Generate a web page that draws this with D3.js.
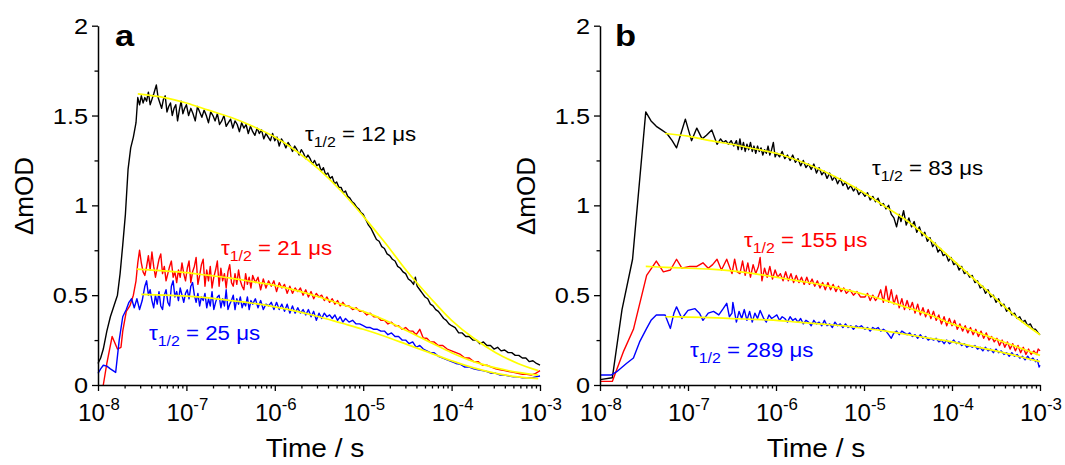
<!DOCTYPE html>
<html><head><meta charset="utf-8">
<script src="https://cdn.jsdelivr.net/npm/d3@7"></script>
<style>
body{margin:0;background:#fff}
svg{display:block}
text{font-family:"Liberation Sans",Arial,Helvetica,sans-serif;fill:#000}
</style>
</head><body>
<svg id="chart" width="1065" height="465"></svg>
<script>
// ---------------- DATA ----------------
const xTickExponents = [-8, -7, -6, -5, -4, -3];
const yTickValues = [0, 0.5, 1, 1.5, 2];
const yTickLabels = ["0", "0.5", "1", "1.5", "2"];
const panelLetters = ["a", "b"];
const xAxisTitle = "Time / s";
const yAxisTitle = "ΔmOD";
const tauLabelsA = ["12", "21", "25"];   // black, red, blue (µs)
const tauLabelsB = ["83", "155", "289"];

// Traces: [log10(time / s), ΔmOD]
const aBlack = [[-8.00,0.12],[-7.97,0.15],[-7.94,0.20],[-7.90,0.30],[-7.86,0.38],[-7.82,0.44],[-7.78,0.50],[-7.75,0.62],[-7.72,0.78],[-7.69,0.95],[-7.66,1.20],[-7.63,1.32],[-7.60,1.38],[-7.57,1.46],[-7.55,1.60],[-7.53,1.56],[-7.51,1.61],[-7.49,1.57],[-7.47,1.60],[-7.45,1.58],[-7.43,1.63],[-7.41,1.56],[-7.39,1.59],[-7.37,1.62],[-7.34,1.67],[-7.32,1.60],[-7.30,1.57],[-7.28,1.54],[-7.26,1.59],[-7.24,1.61],[-7.22,1.52],[-7.20,1.55],[-7.18,1.57],[-7.16,1.50],[-7.14,1.54],[-7.12,1.56],[-7.10,1.47],[-7.08,1.53],[-7.06,1.58],[-7.04,1.51],[-7.02,1.54],[-7.000,1.56],[-6.975,1.50],[-6.950,1.54],[-6.925,1.51],[-6.900,1.47],[-6.875,1.55],[-6.850,1.52],[-6.825,1.49],[-6.800,1.53],[-6.775,1.50],[-6.750,1.46],[-6.725,1.52],[-6.700,1.50],[-6.675,1.47],[-6.650,1.51],[-6.625,1.45],[-6.600,1.47],[-6.575,1.50],[-6.550,1.44],[-6.525,1.46],[-6.500,1.48],[-6.475,1.43],[-6.450,1.47],[-6.425,1.45],[-6.400,1.41],[-6.375,1.46],[-6.350,1.43],[-6.325,1.45],[-6.300,1.40],[-6.275,1.44],[-6.250,1.41],[-6.225,1.39],[-6.200,1.43],[-6.175,1.40],[-6.150,1.42],[-6.125,1.37],[-6.100,1.40],[-6.075,1.38],[-6.050,1.36],[-6.025,1.40],[-6.000,1.36],[-5.975,1.38],[-5.950,1.33],[-5.925,1.37],[-5.900,1.35],[-5.875,1.32],[-5.850,1.35],[-5.825,1.33],[-5.800,1.30],[-5.775,1.33],[-5.750,1.31],[-5.725,1.28],[-5.700,1.31],[-5.675,1.29],[-5.650,1.26],[-5.625,1.28],[-5.600,1.26],[-5.575,1.23],[-5.550,1.25],[-5.525,1.22],[-5.500,1.23],[-5.475,1.19],[-5.450,1.21],[-5.425,1.17],[-5.400,1.18],[-5.375,1.15],[-5.350,1.16],[-5.325,1.12],[-5.300,1.13],[-5.275,1.10],[-5.250,1.10],[-5.225,1.07],[-5.200,1.08],[-5.175,1.05],[-5.150,1.04],[-5.125,1.02],[-5.100,1.01],[-5.075,0.99],[-5.050,0.98],[-5.025,0.96],[-5.000,0.95],[-4.97,0.92],[-4.94,0.89],[-4.91,0.87],[-4.88,0.84],[-4.85,0.81],[-4.82,0.80],[-4.79,0.77],[-4.76,0.76],[-4.73,0.73],[-4.70,0.72],[-4.67,0.70],[-4.64,0.69],[-4.61,0.66],[-4.58,0.65],[-4.55,0.63],[-4.52,0.62],[-4.49,0.59],[-4.46,0.58],[-4.43,0.56],[-4.41,0.60],[-4.39,0.55],[-4.36,0.53],[-4.33,0.51],[-4.30,0.49],[-4.27,0.48],[-4.24,0.45],[-4.21,0.44],[-4.18,0.42],[-4.15,0.41],[-4.12,0.39],[-4.09,0.37],[-4.06,0.36],[-4.03,0.34],[-4.00,0.33],[-3.96,0.32],[-3.92,0.29],[-3.88,0.29],[-3.84,0.27],[-3.80,0.27],[-3.76,0.25],[-3.72,0.25],[-3.68,0.23],[-3.64,0.24],[-3.60,0.22],[-3.56,0.22],[-3.52,0.20],[-3.48,0.21],[-3.44,0.19],[-3.40,0.195],[-3.36,0.18],[-3.32,0.18],[-3.28,0.165],[-3.24,0.165],[-3.20,0.15],[-3.16,0.15],[-3.12,0.13],[-3.08,0.135],[-3.04,0.12],[-3.00,0.11]];
const aRed = [[-7.94,0.00],[-7.90,0.12],[-7.84,0.27],[-7.78,0.20],[-7.74,0.21],[-7.72,0.30],[-7.68,0.41],[-7.64,0.44],[-7.60,0.50],[-7.57,0.58],[-7.55,0.68],[-7.53,0.75],[-7.51,0.68],[-7.49,0.63],[-7.47,0.61],[-7.45,0.66],[-7.43,0.72],[-7.41,0.64],[-7.39,0.74],[-7.37,0.66],[-7.35,0.60],[-7.33,0.65],[-7.31,0.70],[-7.29,0.73],[-7.27,0.62],[-7.25,0.66],[-7.23,0.58],[-7.21,0.62],[-7.19,0.66],[-7.17,0.69],[-7.15,0.60],[-7.13,0.63],[-7.11,0.57],[-7.09,0.64],[-7.07,0.60],[-7.05,0.68],[-7.03,0.62],[-7.01,0.58],[-6.99,0.65],[-6.97,0.69],[-6.95,0.57],[-6.93,0.63],[-6.91,0.66],[-6.89,0.71],[-6.87,0.56],[-6.85,0.61],[-6.83,0.67],[-6.81,0.70],[-6.79,0.55],[-6.77,0.64],[-6.75,0.58],[-6.73,0.66],[-6.71,0.54],[-6.69,0.60],[-6.67,0.64],[-6.65,0.69],[-6.63,0.55],[-6.61,0.65],[-6.59,0.58],[-6.57,0.62],[-6.55,0.54],[-6.53,0.63],[-6.51,0.67],[-6.49,0.57],[-6.47,0.55],[-6.45,0.62],[-6.43,0.56],[-6.41,0.64],[-6.39,0.58],[-6.37,0.55],[-6.35,0.53],[-6.33,0.62],[-6.31,0.56],[-6.29,0.60],[-6.27,0.54],[-6.25,0.61],[-6.22,0.57],[-6.19,0.60],[-6.16,0.53],[-6.13,0.59],[-6.10,0.54],[-6.07,0.58],[-6.04,0.55],[-6.01,0.58],[-5.98,0.52],[-5.95,0.57],[-5.92,0.54],[-5.89,0.56],[-5.86,0.51],[-5.83,0.55],[-5.80,0.51],[-5.77,0.54],[-5.74,0.52],[-5.71,0.54],[-5.68,0.50],[-5.65,0.53],[-5.62,0.49],[-5.59,0.52],[-5.56,0.48],[-5.53,0.51],[-5.50,0.49],[-5.47,0.50],[-5.44,0.47],[-5.41,0.49],[-5.38,0.46],[-5.35,0.48],[-5.32,0.45],[-5.29,0.47],[-5.26,0.44],[-5.23,0.46],[-5.20,0.44],[-5.16,0.44],[-5.12,0.42],[-5.08,0.43],[-5.04,0.41],[-5.00,0.41],[-4.96,0.39],[-4.92,0.40],[-4.88,0.38],[-4.84,0.38],[-4.80,0.36],[-4.76,0.36],[-4.72,0.34],[-4.68,0.35],[-4.64,0.33],[-4.60,0.33],[-4.56,0.31],[-4.52,0.32],[-4.48,0.30],[-4.44,0.30],[-4.40,0.28],[-4.36,0.31],[-4.32,0.26],[-4.28,0.26],[-4.24,0.24],[-4.20,0.24],[-4.15,0.22],[-4.10,0.22],[-4.05,0.20],[-4.00,0.19],[-3.95,0.18],[-3.90,0.17],[-3.85,0.15],[-3.80,0.15],[-3.75,0.13],[-3.70,0.13],[-3.65,0.11],[-3.60,0.11],[-3.55,0.10],[-3.50,0.09],[-3.45,0.085],[-3.40,0.08],[-3.35,0.075],[-3.30,0.07],[-3.25,0.065],[-3.20,0.06],[-3.15,0.06],[-3.10,0.055],[-3.05,0.065],[-3.00,0.08]];
const aBlue = [[-8.00,0.065],[-7.97,0.09],[-7.94,0.11],[-7.90,0.105],[-7.86,0.09],[-7.80,0.07],[-7.76,0.25],[-7.72,0.38],[-7.68,0.42],[-7.65,0.46],[-7.62,0.48],[-7.59,0.43],[-7.56,0.48],[-7.53,0.42],[-7.50,0.47],[-7.47,0.55],[-7.45,0.58],[-7.43,0.50],[-7.41,0.53],[-7.39,0.47],[-7.37,0.43],[-7.35,0.50],[-7.33,0.45],[-7.31,0.52],[-7.29,0.44],[-7.27,0.42],[-7.25,0.50],[-7.23,0.53],[-7.21,0.46],[-7.19,0.44],[-7.17,0.55],[-7.15,0.58],[-7.13,0.49],[-7.11,0.52],[-7.09,0.47],[-7.07,0.54],[-7.05,0.50],[-7.03,0.46],[-7.01,0.51],[-6.99,0.53],[-6.97,0.48],[-6.95,0.55],[-6.93,0.57],[-6.91,0.50],[-6.89,0.46],[-6.87,0.51],[-6.85,0.44],[-6.83,0.49],[-6.81,0.47],[-6.79,0.51],[-6.77,0.43],[-6.75,0.48],[-6.73,0.44],[-6.71,0.52],[-6.69,0.42],[-6.67,0.46],[-6.65,0.49],[-6.63,0.50],[-6.61,0.43],[-6.59,0.48],[-6.57,0.44],[-6.55,0.53],[-6.53,0.42],[-6.51,0.45],[-6.49,0.47],[-6.47,0.50],[-6.45,0.42],[-6.43,0.48],[-6.41,0.45],[-6.39,0.49],[-6.37,0.43],[-6.35,0.46],[-6.33,0.44],[-6.31,0.49],[-6.29,0.42],[-6.27,0.47],[-6.25,0.45],[-6.22,0.48],[-6.19,0.43],[-6.16,0.47],[-6.13,0.42],[-6.10,0.45],[-6.07,0.44],[-6.04,0.46],[-6.01,0.42],[-5.98,0.46],[-5.95,0.42],[-5.92,0.45],[-5.89,0.41],[-5.86,0.45],[-5.83,0.40],[-5.80,0.44],[-5.77,0.40],[-5.74,0.43],[-5.71,0.40],[-5.68,0.42],[-5.65,0.39],[-5.62,0.42],[-5.59,0.38],[-5.56,0.41],[-5.53,0.36],[-5.50,0.40],[-5.47,0.37],[-5.44,0.40],[-5.41,0.38],[-5.38,0.39],[-5.35,0.37],[-5.32,0.39],[-5.29,0.36],[-5.26,0.38],[-5.23,0.35],[-5.20,0.37],[-5.16,0.35],[-5.12,0.36],[-5.08,0.34],[-5.04,0.34],[-5.00,0.33],[-4.96,0.32],[-4.92,0.32],[-4.88,0.31],[-4.84,0.31],[-4.80,0.30],[-4.76,0.30],[-4.72,0.28],[-4.68,0.29],[-4.64,0.27],[-4.60,0.27],[-4.56,0.25],[-4.52,0.25],[-4.48,0.23],[-4.44,0.24],[-4.40,0.21],[-4.36,0.22],[-4.32,0.20],[-4.28,0.19],[-4.24,0.18],[-4.20,0.18],[-4.15,0.16],[-4.10,0.15],[-4.05,0.14],[-4.00,0.13],[-3.95,0.12],[-3.90,0.115],[-3.85,0.10],[-3.80,0.10],[-3.75,0.09],[-3.70,0.085],[-3.65,0.08],[-3.60,0.075],[-3.55,0.065],[-3.50,0.065],[-3.45,0.055],[-3.40,0.055],[-3.35,0.05],[-3.30,0.045],[-3.25,0.045],[-3.20,0.04],[-3.15,0.04],[-3.10,0.04],[-3.05,0.045],[-3.00,0.05]];
const aBlackFit = [[-7.55,1.62],[-7.25,1.60],[-7.0,1.57],[-6.75,1.53],[-6.5,1.49],[-6.25,1.44],[-6.0,1.38],[-5.75,1.30],[-5.5,1.20],[-5.25,1.08],[-5.0,0.94],[-4.75,0.79],[-4.5,0.63],[-4.25,0.49],[-4.0,0.36],[-3.75,0.26],[-3.5,0.18],[-3.25,0.12],[-3.02,0.08]];
const aRedFit = [[-7.56,0.645],[-7.25,0.635],[-7.0,0.625],[-6.75,0.61],[-6.5,0.595],[-6.25,0.575],[-6.0,0.555],[-5.75,0.525],[-5.5,0.49],[-5.25,0.45],[-5.0,0.41],[-4.75,0.36],[-4.5,0.30],[-4.25,0.24],[-4.0,0.18],[-3.75,0.13],[-3.5,0.095],[-3.25,0.07],[-3.02,0.055]];
const aBlueFit = [[-7.51,0.505],[-7.25,0.50],[-7.0,0.495],[-6.75,0.485],[-6.5,0.47],[-6.25,0.455],[-6.0,0.435],[-5.75,0.41],[-5.5,0.38],[-5.25,0.345],[-5.0,0.31],[-4.75,0.27],[-4.5,0.225],[-4.25,0.18],[-4.0,0.135],[-3.75,0.095],[-3.5,0.065],[-3.25,0.045],[-3.02,0.035]];

const bBlack = [[-8.00,0.03],[-7.86,0.04],[-7.75,0.42],[-7.63,0.70],[-7.48,1.52],[-7.42,1.47],[-7.36,1.44],[-7.30,1.42],[-7.24,1.40],[-7.18,1.36],[-7.13,1.32],[-7.08,1.40],[-7.03,1.48],[-6.96,1.36],[-6.90,1.43],[-6.84,1.37],[-6.79,1.39],[-6.73,1.42],[-6.67,1.34],[-6.63,1.37],[-6.60,1.35],[-6.57,1.36],[-6.54,1.34],[-6.51,1.36],[-6.48,1.33],[-6.45,1.36],[-6.43,1.31],[-6.41,1.37],[-6.39,1.31],[-6.37,1.35],[-6.35,1.30],[-6.33,1.34],[-6.31,1.31],[-6.29,1.35],[-6.27,1.30],[-6.25,1.33],[-6.23,1.29],[-6.21,1.33],[-6.19,1.30],[-6.17,1.32],[-6.15,1.28],[-6.13,1.31],[-6.11,1.29],[-6.09,1.33],[-6.07,1.28],[-6.05,1.31],[-6.03,1.35],[-6.01,1.27],[-5.99,1.29],[-5.96,1.27],[-5.93,1.30],[-5.90,1.26],[-5.87,1.28],[-5.84,1.25],[-5.81,1.28],[-5.78,1.24],[-5.75,1.26],[-5.72,1.22],[-5.69,1.25],[-5.66,1.21],[-5.63,1.23],[-5.60,1.20],[-5.57,1.23],[-5.54,1.18],[-5.51,1.21],[-5.48,1.17],[-5.45,1.19],[-5.42,1.15],[-5.39,1.18],[-5.36,1.14],[-5.33,1.16],[-5.30,1.12],[-5.27,1.15],[-5.24,1.11],[-5.21,1.13],[-5.18,1.09],[-5.15,1.11],[-5.12,1.08],[-5.09,1.10],[-5.06,1.06],[-5.03,1.08],[-4.99,1.05],[-4.96,1.07],[-4.93,1.03],[-4.90,1.05],[-4.87,1.02],[-4.84,1.04],[-4.81,1.00],[-4.78,1.01],[-4.75,0.98],[-4.72,1.00],[-4.69,0.95],[-4.66,0.93],[-4.63,0.88],[-4.60,0.95],[-4.58,0.91],[-4.55,0.97],[-4.52,0.89],[-4.49,0.93],[-4.46,0.88],[-4.43,0.91],[-4.40,0.85],[-4.37,0.88],[-4.34,0.83],[-4.31,0.85],[-4.28,0.80],[-4.25,0.82],[-4.22,0.77],[-4.19,0.79],[-4.16,0.74],[-4.13,0.76],[-4.10,0.72],[-4.07,0.73],[-4.04,0.69],[-4.01,0.71],[-3.98,0.67],[-3.95,0.68],[-3.92,0.64],[-3.89,0.66],[-3.86,0.62],[-3.83,0.63],[-3.80,0.60],[-3.77,0.61],[-3.74,0.57],[-3.71,0.58],[-3.68,0.54],[-3.65,0.55],[-3.62,0.51],[-3.59,0.53],[-3.56,0.49],[-3.53,0.50],[-3.50,0.46],[-3.47,0.48],[-3.44,0.44],[-3.41,0.45],[-3.38,0.41],[-3.35,0.43],[-3.32,0.39],[-3.29,0.40],[-3.26,0.37],[-3.23,0.38],[-3.20,0.35],[-3.17,0.36],[-3.14,0.33],[-3.11,0.34],[-3.08,0.31],[-3.05,0.31],[-3.02,0.29],[-3.00,0.28]];
const bRed = [[-8.00,0.02],[-7.86,0.02],[-7.73,0.19],[-7.62,0.31],[-7.47,0.61],[-7.40,0.66],[-7.36,0.69],[-7.28,0.63],[-7.20,0.64],[-7.13,0.70],[-7.07,0.65],[-6.98,0.66],[-6.90,0.66],[-6.83,0.68],[-6.77,0.65],[-6.72,0.67],[-6.67,0.70],[-6.62,0.64],[-6.56,0.70],[-6.50,0.62],[-6.47,0.70],[-6.44,0.63],[-6.41,0.62],[-6.38,0.69],[-6.35,0.61],[-6.32,0.68],[-6.29,0.60],[-6.26,0.67],[-6.23,0.62],[-6.20,0.66],[-6.18,0.71],[-6.16,0.58],[-6.13,0.65],[-6.10,0.60],[-6.07,0.66],[-6.04,0.59],[-6.01,0.64],[-5.98,0.60],[-5.95,0.62],[-5.92,0.58],[-5.89,0.63],[-5.86,0.58],[-5.83,0.62],[-5.80,0.57],[-5.77,0.61],[-5.74,0.57],[-5.71,0.60],[-5.68,0.56],[-5.65,0.60],[-5.62,0.56],[-5.59,0.59],[-5.56,0.55],[-5.53,0.58],[-5.50,0.54],[-5.47,0.57],[-5.44,0.53],[-5.41,0.57],[-5.38,0.53],[-5.35,0.56],[-5.32,0.52],[-5.29,0.55],[-5.26,0.52],[-5.23,0.54],[-5.20,0.51],[-5.16,0.53],[-5.12,0.50],[-5.08,0.52],[-5.04,0.49],[-4.99,0.49],[-4.96,0.51],[-4.93,0.47],[-4.90,0.50],[-4.87,0.47],[-4.84,0.49],[-4.81,0.53],[-4.78,0.46],[-4.75,0.55],[-4.72,0.46],[-4.69,0.53],[-4.66,0.45],[-4.63,0.50],[-4.60,0.43],[-4.57,0.48],[-4.54,0.42],[-4.51,0.47],[-4.48,0.42],[-4.45,0.46],[-4.42,0.40],[-4.39,0.45],[-4.36,0.39],[-4.33,0.43],[-4.30,0.38],[-4.27,0.42],[-4.24,0.37],[-4.21,0.41],[-4.18,0.36],[-4.15,0.39],[-4.12,0.34],[-4.09,0.38],[-4.06,0.33],[-4.03,0.37],[-4.00,0.33],[-3.97,0.36],[-3.94,0.31],[-3.91,0.34],[-3.88,0.30],[-3.85,0.33],[-3.82,0.29],[-3.79,0.32],[-3.76,0.28],[-3.73,0.31],[-3.70,0.27],[-3.67,0.30],[-3.64,0.26],[-3.61,0.29],[-3.58,0.25],[-3.55,0.27],[-3.52,0.24],[-3.49,0.26],[-3.46,0.22],[-3.43,0.25],[-3.40,0.21],[-3.37,0.24],[-3.34,0.20],[-3.31,0.23],[-3.28,0.19],[-3.25,0.22],[-3.22,0.18],[-3.19,0.21],[-3.16,0.17],[-3.13,0.20],[-3.10,0.17],[-3.07,0.19],[-3.04,0.17],[-3.02,0.20],[-3.00,0.19]];
const bBlue = [[-8.00,0.056],[-7.87,0.056],[-7.81,0.074],[-7.70,0.12],[-7.62,0.15],[-7.55,0.24],[-7.47,0.315],[-7.42,0.36],[-7.36,0.39],[-7.26,0.39],[-7.20,0.315],[-7.16,0.40],[-7.13,0.435],[-7.07,0.37],[-7.00,0.415],[-6.92,0.425],[-6.87,0.40],[-6.83,0.36],[-6.77,0.40],[-6.71,0.41],[-6.65,0.39],[-6.60,0.425],[-6.56,0.455],[-6.53,0.38],[-6.50,0.40],[-6.49,0.46],[-6.45,0.35],[-6.42,0.41],[-6.39,0.37],[-6.36,0.42],[-6.33,0.36],[-6.30,0.41],[-6.27,0.35],[-6.24,0.40],[-6.21,0.37],[-6.18,0.415],[-6.14,0.37],[-6.11,0.35],[-6.08,0.39],[-6.05,0.37],[-6.02,0.38],[-5.99,0.39],[-5.96,0.36],[-5.93,0.38],[-5.90,0.37],[-5.87,0.35],[-5.84,0.38],[-5.81,0.36],[-5.78,0.37],[-5.75,0.35],[-5.72,0.37],[-5.69,0.34],[-5.66,0.36],[-5.63,0.35],[-5.60,0.33],[-5.57,0.36],[-5.54,0.34],[-5.51,0.35],[-5.48,0.33],[-5.45,0.36],[-5.42,0.33],[-5.39,0.34],[-5.36,0.32],[-5.33,0.35],[-5.30,0.33],[-5.27,0.34],[-5.24,0.32],[-5.21,0.34],[-5.18,0.32],[-5.15,0.33],[-5.12,0.31],[-5.09,0.33],[-5.06,0.32],[-5.03,0.33],[-4.99,0.31],[-4.96,0.32],[-4.93,0.30],[-4.90,0.32],[-4.87,0.31],[-4.84,0.32],[-4.81,0.30],[-4.78,0.31],[-4.75,0.30],[-4.72,0.28],[-4.69,0.26],[-4.66,0.29],[-4.63,0.30],[-4.60,0.28],[-4.57,0.30],[-4.54,0.29],[-4.51,0.28],[-4.48,0.29],[-4.45,0.27],[-4.42,0.28],[-4.39,0.26],[-4.36,0.28],[-4.33,0.26],[-4.30,0.27],[-4.27,0.25],[-4.24,0.26],[-4.21,0.25],[-4.18,0.26],[-4.15,0.24],[-4.12,0.25],[-4.09,0.23],[-4.06,0.25],[-4.03,0.23],[-4.00,0.24],[-3.98,0.25],[-3.95,0.23],[-3.92,0.24],[-3.89,0.22],[-3.86,0.23],[-3.83,0.21],[-3.80,0.22],[-3.77,0.21],[-3.74,0.22],[-3.71,0.20],[-3.68,0.21],[-3.65,0.19],[-3.62,0.21],[-3.59,0.19],[-3.56,0.20],[-3.53,0.18],[-3.50,0.20],[-3.47,0.18],[-3.44,0.19],[-3.41,0.17],[-3.38,0.18],[-3.35,0.16],[-3.32,0.18],[-3.29,0.16],[-3.26,0.17],[-3.23,0.15],[-3.20,0.16],[-3.17,0.14],[-3.14,0.16],[-3.11,0.14],[-3.08,0.15],[-3.05,0.13],[-3.03,0.14],[-3.01,0.10],[-3.00,0.11]];
const bBlackFit = [[-7.26,1.40],[-7.0,1.385],[-6.75,1.36],[-6.5,1.34],[-6.25,1.315],[-6.0,1.29],[-5.75,1.25],[-5.5,1.20],[-5.25,1.14],[-5.0,1.07],[-4.75,0.99],[-4.5,0.91],[-4.25,0.81],[-4.0,0.70],[-3.75,0.59],[-3.5,0.48],[-3.25,0.37],[-3.0,0.28]];
const bRedFit = [[-7.48,0.66],[-7.25,0.655],[-7.0,0.65],[-6.75,0.645],[-6.5,0.635],[-6.25,0.62],[-6.0,0.60],[-5.75,0.58],[-5.5,0.56],[-5.25,0.535],[-5.0,0.505],[-4.75,0.47],[-4.5,0.43],[-4.25,0.39],[-4.0,0.34],[-3.75,0.30],[-3.5,0.255],[-3.25,0.21],[-3.0,0.165]];
const bBlueFit = [[-7.26,0.38],[-7.0,0.378],[-6.75,0.375],[-6.5,0.37],[-6.25,0.365],[-6.0,0.36],[-5.75,0.35],[-5.5,0.34],[-5.25,0.33],[-5.0,0.315],[-4.75,0.30],[-4.5,0.28],[-4.25,0.26],[-4.0,0.24],[-3.75,0.215],[-3.5,0.19],[-3.25,0.16],[-3.0,0.13]];

// ---------------- LAYOUT ----------------
const colors = {black: "#000000", red: "#ff0000", blue: "#0000ff", fit: "#ffff00"};
const SX = 1.15; // horizontal glyph stretch of the original figure
const panels = [
  {left: 98, right: 540, top: 25.7, bottom: 385, letter: panelLetters[0], letterPos: [115, 46], yTitleX: 33,
   traces: [[aBlack, colors.black], [aRed, colors.red], [aBlue, colors.blue]],
   fits: [aBlackFit, aRedFit, aBlueFit],
   taus: [[tauLabelsA[0], colors.black, 305, 141], [tauLabelsA[1], colors.red, 221, 255], [tauLabelsA[2], colors.blue, 149, 340]]},
  {left: 600, right: 1040, top: 25.7, bottom: 385, letter: panelLetters[1], letterPos: [615, 46], yTitleX: 535,
   traces: [[bBlack, colors.black], [bRed, colors.red], [bBlue, colors.blue]],
   fits: [bBlackFit, bRedFit, bBlueFit],
   taus: [[tauLabelsB[0], colors.black, 872, 175], [tauLabelsB[1], colors.red, 744, 247], [tauLabelsB[2], colors.blue, 690, 357]]}
];

const svg = d3.select("#chart");

panels.forEach(p => {
  const x = d3.scaleLog().domain([1e-8, 1e-3]).range([p.left, p.right]);
  const y = d3.scaleLinear().domain([0, 2]).range([p.bottom, p.top]);
  const g = svg.append("g");

  // traces
  const line = d3.line().x(d => x(Math.pow(10, d[0]))).y(d => y(d[1]));
  p.traces.forEach(([data, col]) => {
    g.append("path").datum(data).attr("d", line)
      .attr("fill", "none").attr("stroke", col).attr("stroke-width", 1.4)
      .attr("stroke-linejoin", "round");
  });
  const fitLine = d3.line().curve(d3.curveCatmullRom).x(d => x(Math.pow(10, d[0]))).y(d => y(d[1]));
  p.fits.forEach(data => {
    g.append("path").datum(data).attr("d", fitLine)
      .attr("fill", "none").attr("stroke", colors.fit).attr("stroke-width", 1.7);
  });

  // x axis
  const xMinor = [];
  for (let e = -8; e < -3; e++) for (let m = 2; m <= 9; m++) xMinor.push(m * Math.pow(10, e));
  g.append("g").attr("transform", `translate(0,${p.bottom})`)
    .call(d3.axisBottom(x).tickValues(xMinor).tickSize(3.5).tickFormat(""))
    .call(a => a.select(".domain").remove());
  const xa = g.append("g").attr("transform", `translate(0,${p.bottom})`)
    .call(d3.axisBottom(x).tickValues(xTickExponents.map(e => Math.pow(10, e))).tickSize(6).tickSizeOuter(0).tickFormat(""));
  xa.select(".domain").attr("stroke-width", 1.5);
  g.selectAll(".tick line").attr("stroke-width", 1.3);

  xTickExponents.forEach(e => {
    const t = g.append("text").attr("transform", `translate(${x(Math.pow(10, e)) + 1},421) scale(1.05,1)`)
      .attr("text-anchor", "middle").attr("font-size", 23);
    t.append("tspan").text("10");
    t.append("tspan").attr("dy", -11).attr("font-size", 16).text(String(e));
  });

  // y axis
  const yMinor = [0.25, 0.75, 1.25, 1.75];
  g.append("g").attr("transform", `translate(${p.left},0)`)
    .call(d3.axisLeft(y).tickValues(yMinor).tickSize(3.5).tickFormat(""))
    .call(a => a.select(".domain").remove());
  const ya = g.append("g").attr("transform", `translate(${p.left},0)`)
    .call(d3.axisLeft(y).tickValues(yTickValues).tickSize(6).tickSizeOuter(0).tickFormat(""));
  ya.select(".domain").attr("stroke-width", 1.5);
  g.selectAll(".tick line").attr("stroke-width", 1.3);
  yTickValues.forEach((v, i) => {
    g.append("text").attr("transform", `translate(${p.left - 10},${y(v) + 8}) scale(${SX},1)`)
      .attr("text-anchor", "end").attr("font-size", 22).text(yTickLabels[i]);
  });

  // titles
  g.append("text").attr("transform", `translate(${(p.left + p.right) / 2 - 4},457) scale(1.08,1)`)
    .attr("text-anchor", "middle").attr("font-size", 26).text(xAxisTitle);
  g.append("text").attr("transform", `translate(${p.yTitleX},196) rotate(-90)`)
    .attr("text-anchor", "middle").attr("font-size", 26).text(yAxisTitle);
  g.append("text").attr("transform", `translate(${p.letterPos[0]},${p.letterPos[1]}) scale(${SX},1)`)
    .attr("font-size", 30).attr("font-weight", "bold").text(p.letter);

  // tau annotations
  p.taus.forEach(([val, col, tx, ty]) => {
    const t = g.append("text").attr("transform", `translate(${tx},${ty}) scale(1.06,1)`)
      .attr("font-size", 21).style("fill", col);
    t.append("tspan").text("τ");
    t.append("tspan").attr("dy", 6).attr("font-size", 15).text("1/2");
    t.append("tspan").attr("dy", -6).text(` = ${val} μs`);
  });
});
</script>
</body></html>
